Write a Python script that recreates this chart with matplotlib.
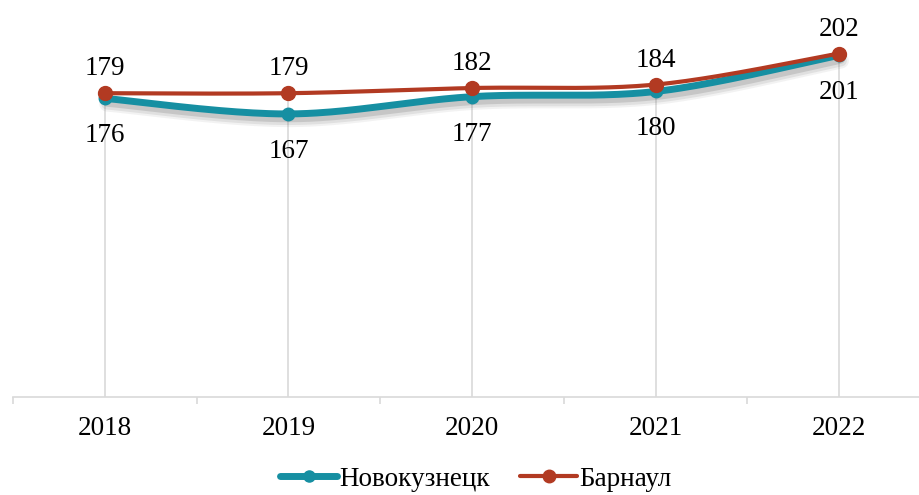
import numpy as np
import matplotlib
matplotlib.use("Agg")
import matplotlib.pyplot as plt
import matplotlib.patheffects as pe

years = ["2018", "2019", "2020", "2021", "2022"]
novokuznetsk = [176, 167, 177, 180, 201]
barnaul = [179, 179, 182, 184, 202]

teal = "#168fa2"
red = "#b23a22"
grid = "#d9d9d9"

plt.rcParams["font.family"] = ["Liberation Serif", "DejaVu Serif"]
plt.rcParams["font.size"] = 19.5


def smooth(x, y, n=40, t=0.5):
    # cardinal spline through the points (like Excel "smoothed line")
    x = np.asarray(x, float)
    y = np.asarray(y, float)
    xs, ys = [], []
    for i in range(len(x) - 1):
        i0, i3 = max(i - 1, 0), min(i + 2, len(x) - 1)
        mx1 = t * (x[i + 1] - x[i0])
        my1 = t * (y[i + 1] - y[i0])
        mx2 = t * (x[i3] - x[i])
        my2 = t * (y[i3] - y[i])
        s = np.linspace(0, 1, n)
        h00 = 2 * s**3 - 3 * s**2 + 1
        h10 = s**3 - 2 * s**2 + s
        h01 = -2 * s**3 + 3 * s**2
        h11 = s**3 - s**2
        xs.append(h00 * x[i] + h10 * mx1 + h01 * x[i + 1] + h11 * mx2)
        ys.append(h00 * y[i] + h10 * my1 + h01 * y[i + 1] + h11 * my2)
    return np.concatenate(xs), np.concatenate(ys)


fig = plt.figure(figsize=(9.19, 4.95), dpi=100)
ax = fig.add_axes([13 / 919, 1 - 397 / 495, 918 / 919, 397 / 495])
x = np.arange(len(years))
ymin, ymax = 3, 233

# drop lines
ax.vlines(x, ymin, np.maximum(novokuznetsk, barnaul), color=grid, lw=1.2, zorder=1)

# soft shadow under the teal line
shadow = [pe.SimpleLineShadow(offset=(1.5, -4), shadow_color="#606060", alpha=0.08, linewidth=11),
          pe.SimpleLineShadow(offset=(1.5, -4), shadow_color="#606060", alpha=0.12, linewidth=8),
          pe.SimpleLineShadow(offset=(1.5, -3.5), shadow_color="#606060", alpha=0.2, linewidth=5),
          pe.Normal()]
sx, sy = smooth(x, novokuznetsk)
ax.plot(sx, sy, color=teal, lw=5, solid_capstyle="round", zorder=3, path_effects=shadow)
ax.plot(x, novokuznetsk, "o", color=teal, ms=9, zorder=4)
sx, sy = smooth(x, barnaul)
ax.plot(sx, sy, color=red, lw=3, solid_capstyle="round", zorder=5)
ax.plot(x, barnaul, "o", color=red, ms=10, zorder=6)

for i in x:
    ax.annotate(str(barnaul[i]), (i, barnaul[i]), xytext=(0, 17.5), textcoords="offset points",
                ha="center", va="center")
    ax.annotate(str(novokuznetsk[i]), (i, novokuznetsk[i]), xytext=(0, -27), textcoords="offset points",
                ha="center", va="center")

ax.set_xlim(-0.5, len(years) - 0.5)
ax.set_ylim(ymin, ymax)
ax.set_yticks([])
for s in ["left", "right", "top"]:
    ax.spines[s].set_visible(False)
ax.spines["bottom"].set_color(grid)
ax.spines["bottom"].set_linewidth(1.2)
ax.set_xticks(x)
ax.set_xticklabels(years)
ax.tick_params(axis="x", which="major", length=0, pad=14)
ax.set_xticks(np.arange(-0.5, len(years)), minor=True)
ax.tick_params(axis="x", which="minor", length=5, width=1.2, color=grid)

h1, = ax.plot([], [], "-o", color=teal, lw=5, ms=8, solid_capstyle="round")
h2, = ax.plot([], [], "-o", color=red, lw=3, ms=9, solid_capstyle="round")
fig.legend([h1, h2], ["Новокузнецк", "Барнаул"], loc="center", bbox_to_anchor=(476 / 919, 1 - 479 / 495),
           ncol=2, frameon=False, handlelength=2.1, handletextpad=0.1, columnspacing=1.1,
           borderpad=0.1)

fig.savefig("out.png", dpi=100)
